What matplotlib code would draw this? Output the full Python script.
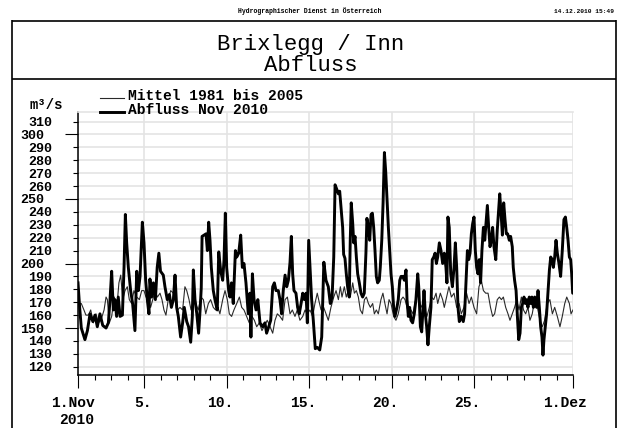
import matplotlib
matplotlib.use("Agg")
import numpy as np
import matplotlib.pyplot as plt
import matplotlib.transforms as mtransforms
from matplotlib.legend_handler import HandlerLine2D

# ---------------- data (days after 1 Nov 2010 00:00, discharge m3/s) ----------------
abfluss_nov2010 = [
    (0, 185), (0.1, 166), (0.2, 150), (0.42, 141), (0.57, 148), (0.73, 161), (0.9, 155), (1.03, 160),
    (1.17, 151), (1.33, 161), (1.5, 152), (1.7, 150), (1.84, 154), (1.94, 172), (2.04, 194), (2.14, 164),
    (2.24, 172), (2.34, 159), (2.44, 174), (2.55, 159), (2.69, 160), (2.79, 197), (2.87, 238), (2.95, 216),
    (3.05, 197), (3.19, 179), (3.31, 169), (3.45, 148), (3.56, 194), (3.66, 179), (3.76, 190), (3.9, 232),
    (4.0, 216), (4.1, 187), (4.2, 172), (4.3, 161), (4.36, 188), (4.46, 174), (4.57, 185), (4.69, 172),
    (4.8, 197), (4.9, 208), (5.0, 194), (5.17, 191), (5.27, 182), (5.41, 172), (5.54, 176), (5.66, 166),
    (5.78, 172), (5.88, 191), (5.98, 166), (6.08, 159), (6.22, 143), (6.34, 154), (6.44, 166), (6.59, 155),
    (6.7, 151), (6.83, 139), (6.93, 159), (6.99, 195), (7.09, 172), (7.2, 161), (7.31, 146), (7.4, 164),
    (7.47, 181), (7.52, 221), (7.64, 222), (7.76, 223), (7.84, 210), (7.92, 232), (8.0, 218), (8.08, 197),
    (8.2, 179), (8.3, 172), (8.44, 164), (8.53, 209), (8.65, 194), (8.77, 187), (8.85, 203), (8.93, 239),
    (9.01, 197), (9.13, 179), (9.21, 174), (9.3, 185), (9.41, 169), (9.54, 210), (9.62, 205), (9.74, 208),
    (9.86, 222), (9.96, 197), (10.06, 200), (10.18, 185), (10.32, 161), (10.42, 177), (10.48, 143), (10.57, 192),
    (10.67, 172), (10.79, 164), (10.9, 172), (11.03, 154), (11.19, 151), (11.33, 154), (11.43, 146), (11.56, 151),
    (11.68, 156), (11.8, 182), (11.9, 185), (12.0, 179), (12.14, 179), (12.24, 172), (12.34, 161), (12.44, 179),
    (12.55, 191), (12.65, 182), (12.75, 187), (12.85, 201), (12.93, 221), (13.01, 192), (13.09, 179), (13.21, 177),
    (13.31, 166), (13.41, 161), (13.52, 169), (13.62, 177), (13.72, 172), (13.82, 177), (13.9, 154), (13.98, 218),
    (14.06, 197), (14.16, 172), (14.26, 156), (14.38, 134), (14.5, 135), (14.65, 133), (14.77, 143), (14.9, 201),
    (15.03, 187), (15.17, 182), (15.29, 169), (15.4, 174), (15.5, 205), (15.58, 261), (15.7, 257), (15.78, 254),
    (15.86, 256), (15.94, 244), (16.04, 228), (16.1, 207), (16.18, 204), (16.26, 192), (16.34, 182), (16.44, 174),
    (16.5, 218), (16.56, 247), (16.65, 231), (16.71, 216), (16.79, 221), (16.87, 205), (16.95, 192), (17.05, 185),
    (17.15, 177), (17.25, 174), (17.35, 177), (17.45, 208), (17.51, 235), (17.6, 228), (17.68, 218), (17.76, 238),
    (17.84, 239), (17.92, 228), (18.0, 210), (18.08, 190), (18.16, 185), (18.26, 187), (18.32, 197), (18.41, 218),
    (18.49, 247), (18.57, 286), (18.65, 271), (18.73, 249), (18.81, 228), (18.89, 210), (18.97, 192), (19.05, 182),
    (19.13, 166), (19.21, 159), (19.33, 166), (19.41, 172), (19.5, 187), (19.58, 190), (19.68, 190), (19.78, 187),
    (19.88, 195), (19.94, 172), (20.02, 159), (20.1, 166), (20.18, 156), (20.28, 154), (20.38, 161), (20.48, 172),
    (20.59, 192), (20.65, 182), (20.75, 151), (20.83, 147), (20.91, 166), (20.97, 179), (21.05, 161), (21.13, 151),
    (21.21, 137), (21.29, 151), (21.39, 166), (21.47, 203), (21.56, 205), (21.64, 208), (21.72, 200), (21.8, 205),
    (21.9, 216), (22.0, 210), (22.1, 200), (22.2, 208), (22.3, 197), (22.36, 185), (22.42, 236), (22.5, 228),
    (22.59, 192), (22.69, 182), (22.79, 197), (22.87, 216), (22.95, 197), (23.03, 166), (23.11, 155), (23.23, 159),
    (23.35, 155), (23.43, 161), (23.51, 185), (23.6, 210), (23.68, 203), (23.76, 208), (23.84, 223), (23.92, 231),
    (24.0, 236), (24.08, 210), (24.16, 197), (24.24, 192), (24.32, 203), (24.4, 185), (24.48, 210), (24.57, 228),
    (24.65, 218), (24.73, 231), (24.81, 245), (24.89, 228), (24.97, 213), (25.05, 218), (25.13, 228), (25.21, 213),
    (25.32, 203), (25.41, 226), (25.48, 239), (25.56, 254), (25.64, 239), (25.72, 222), (25.8, 247), (25.88, 234),
    (25.96, 223), (26.04, 223), (26.14, 218), (26.22, 221), (26.32, 213), (26.38, 197), (26.46, 187), (26.55, 179),
    (26.63, 159), (26.71, 141), (26.79, 146), (26.87, 166), (26.95, 169), (27.03, 174), (27.11, 169), (27.19, 172),
    (27.27, 166), (27.35, 174), (27.43, 169), (27.51, 174), (27.6, 166), (27.68, 174), (27.8, 166), (27.88, 179),
    (27.96, 166), (28.04, 151), (28.12, 143), (28.18, 129), (28.24, 141), (28.32, 151), (28.4, 161), (28.48, 177),
    (28.57, 195), (28.65, 205), (28.73, 203), (28.81, 197), (28.89, 205), (28.97, 218), (29.05, 208), (29.15, 200),
    (29.25, 190), (29.35, 210), (29.45, 234), (29.54, 236), (29.62, 228), (29.7, 218), (29.78, 205), (29.86, 203),
    (29.92, 192), (29.98, 177), (30.0, 177),
]

mittel_1981_2005 = [
    (0, 169), (0.2, 169), (0.36, 164), (0.48, 160), (0.63, 160), (0.77, 164), (0.93, 154), (1.09, 161),
    (1.23, 154), (1.39, 156), (1.58, 164), (1.7, 174), (1.78, 172), (1.9, 154), (2.04, 159), (2.2, 174),
    (2.34, 164), (2.48, 185), (2.59, 191), (2.71, 172), (2.85, 179), (2.99, 182), (3.11, 172), (3.25, 169),
    (3.39, 179), (3.56, 174), (3.72, 172), (3.86, 179), (4.0, 179), (4.12, 174), (4.26, 172), (4.4, 166),
    (4.53, 172), (4.67, 179), (4.81, 174), (4.97, 177), (5.09, 172), (5.21, 164), (5.33, 160), (5.47, 172),
    (5.62, 179), (5.78, 177), (5.92, 169), (6.04, 164), (6.18, 166), (6.34, 164), (6.48, 182), (6.59, 179),
    (6.73, 172), (6.85, 164), (6.99, 172), (7.13, 169), (7.29, 164), (7.45, 174), (7.6, 172), (7.74, 161),
    (7.9, 169), (8.04, 172), (8.2, 166), (8.34, 164), (8.48, 166), (8.6, 161), (8.77, 172), (8.91, 179),
    (9.05, 172), (9.17, 161), (9.31, 159), (9.45, 164), (9.62, 169), (9.78, 174), (9.92, 166), (10.06, 164),
    (10.22, 159), (10.38, 154), (10.55, 159), (10.69, 156), (10.83, 151), (10.99, 154), (11.15, 148), (11.31, 152),
    (11.47, 156), (11.64, 151), (11.8, 146), (11.94, 156), (12.08, 161), (12.24, 159), (12.4, 156), (12.55, 172),
    (12.69, 174), (12.85, 161), (12.99, 164), (13.15, 159), (13.29, 164), (13.45, 156), (13.62, 159), (13.76, 164),
    (13.9, 161), (14.06, 164), (14.22, 159), (14.36, 169), (14.5, 177), (14.62, 170), (14.73, 164), (14.89, 166),
    (15.03, 161), (15.17, 156), (15.33, 166), (15.5, 174), (15.64, 179), (15.78, 172), (15.9, 182), (16.0, 174),
    (16.14, 182), (16.26, 174), (16.38, 179), (16.5, 174), (16.65, 185), (16.75, 177), (16.87, 179), (16.99, 174),
    (17.11, 164), (17.24, 161), (17.36, 172), (17.48, 174), (17.6, 169), (17.72, 166), (17.86, 169), (17.96, 161),
    (18.08, 164), (18.2, 161), (18.36, 172), (18.48, 177), (18.6, 169), (18.73, 161), (18.85, 172), (18.97, 169),
    (19.13, 159), (19.27, 156), (19.41, 161), (19.58, 172), (19.7, 174), (19.82, 172), (19.94, 166), (20.06, 161),
    (20.18, 164), (20.3, 161), (20.42, 169), (20.55, 177), (20.67, 172), (20.79, 166), (20.91, 169), (21.03, 164),
    (21.15, 159), (21.29, 166), (21.43, 174), (21.56, 172), (21.7, 177), (21.8, 169), (21.96, 177), (22.1, 172),
    (22.2, 166), (22.34, 174), (22.48, 182), (22.63, 174), (22.79, 177), (22.95, 166), (23.1, 169), (23.23, 161),
    (23.39, 166), (23.55, 177), (23.7, 169), (23.84, 174), (24.0, 166), (24.16, 161), (24.3, 182), (24.44, 187),
    (24.57, 179), (24.71, 177), (24.85, 177), (25.0, 166), (25.13, 159), (25.25, 161), (25.41, 172), (25.54, 174),
    (25.66, 172), (25.78, 174), (25.92, 166), (26.06, 161), (26.18, 156), (26.32, 161), (26.46, 166), (26.59, 172),
    (26.73, 164), (26.87, 174), (27.0, 164), (27.13, 161), (27.27, 166), (27.39, 156), (27.53, 161), (27.68, 172),
    (27.84, 166), (28.0, 156), (28.14, 151), (28.28, 156), (28.44, 169), (28.6, 172), (28.75, 161), (28.89, 166),
    (29.05, 159), (29.21, 151), (29.35, 159), (29.5, 169), (29.62, 174), (29.78, 169), (29.88, 161), (30.0, 164),
]

series_labels = ["Mittel 1981 bis 2005", "Abfluss Nov 2010"]
x_major_days = [0, 4, 9, 14, 19, 24, 30]
x_major_labels = ["1.Nov\n2010", "5.", "10.", "15.", "20.", "25.", "1.Dez"]
x_minor_days = list(range(0, 31))
y_major_ticks = [150, 200, 250, 300]
y_minor_ticks = [120, 130, 140, 160, 170, 180, 190, 210, 220, 230, 240, 260, 270, 280, 290, 310]
title_text = "Brixlegg / Inn\nAbfluss"
unit_text = "m³/s"
header_text = "Hydrographischer Dienst in Österreich"
date_text = "14.12.2010 15:49"

# ---------------- figure ----------------
W, H = 621, 428
DPI = 100
FONT = "Liberation Mono"
plt.rcParams["font.family"] = [FONT, "DejaVu Sans"]

fig = plt.figure(figsize=(W / DPI, H / DPI), dpi=DPI)
fig.patch.set_facecolor("white")

# overlay in pixel coordinates for page frame / header
ov = fig.add_axes([0, 0, 1, 1])
ov.set_xlim(0, W)
ov.set_ylim(H, 0)
ov.axis("off")
frame_kw = dict(color="black", lw=1.2, solid_capstyle="butt")
ov.plot([12, 12], [20, H], **frame_kw)
ov.plot([615.5, 615.5], [20, H], **frame_kw)
ov.plot([12, 615.5], [20.5, 20.5], **frame_kw)
ov.plot([12, 615.5], [79, 79], **frame_kw)
ov.text(310, 11, header_text, ha="center", va="center", fontsize=4.7, fontweight="bold")
ov.text(614, 11, date_text, ha="right", va="center", fontsize=4.5, fontweight="bold")
ov.text(311, 55, title_text, ha="center", va="center", fontsize=16, linespacing=1.05)
ov.text(46, 109, unit_text, ha="center", va="baseline", fontsize=10, fontweight="bold")

# main plot axes
ax_l, ax_r, ax_t, ax_b = 78, 573, 112, 375
ax = fig.add_axes([ax_l / W, (H - ax_b) / H, (ax_r - ax_l) / W, (ax_b - ax_t) / H])
ax.patch.set_alpha(0)

mt, mq = zip(*mittel_1981_2005)
at, aq = zip(*abfluss_nov2010)
l_mean, = ax.plot(mt, mq, color="#2a2a2a", lw=0.8, zorder=3)
l_abfl, = ax.plot(at, aq, color="black", lw=2.1, zorder=4, solid_joinstyle="round")

ax.set_xlim(0, 30)
ax.set_ylim(113.6, 317.4)

grid_color = "#e4e4e4"
ax.set_axisbelow(True)
ax.set_xticks(x_minor_days, minor=True)
ax.set_xticks(x_major_days, labels=x_major_labels)
ax.set_yticks(y_major_ticks, labels=[str(v) for v in y_major_ticks])
ax.set_yticks(y_minor_ticks, labels=[str(v) for v in y_minor_ticks], minor=True)
ax.grid(True, which="major", axis="x", color=grid_color, lw=1.2)
ax.grid(True, which="both", axis="y", color=grid_color, lw=1.2)

ax.spines["right"].set_visible(False)
ax.spines["top"].set_color(grid_color)
ax.spines["top"].set_linewidth(1.2)
ax.spines["left"].set_linewidth(1.1)
ax.spines["bottom"].set_linewidth(1.1)

ax.tick_params(axis="x", which="major", direction="out", length=9.4, width=0.8, pad=6,
               labelsize=10.5, colors="black")
ax.tick_params(axis="x", which="minor", direction="out", length=3.6, width=0.8)
ax.tick_params(axis="y", which="major", direction="out", length=9.4, width=0.8, pad=15,
               labelsize=9.6)
ax.tick_params(axis="y", which="minor", direction="out", length=3.6, width=0.8, pad=15,
               labelsize=9.6)
for lab in ax.get_xticklabels() + ax.get_yticklabels() + ax.get_yticklabels(minor=True):
    lab.set_fontweight("bold")

# small horizontal shifts of x tick labels as in the original
x_label_shift_px = [-5.5, -0.7, -6, -5.5, -6.5, -6.5, -8]
for tick, dx in zip(ax.xaxis.get_major_ticks(), x_label_shift_px):
    lab = tick.label1
    lab.set_transform(lab.get_transform() + mtransforms.ScaledTranslation(dx / DPI, 0, fig.dpi_scale_trans))
    lab.set_multialignment("right")


class LowHandler(HandlerLine2D):
    """Legend line sample drawn slightly below the text centre, as in the original."""
    def create_artists(self, legend, orig_handle, xdescent, ydescent, width, height, fontsize, trans):
        arts = super().create_artists(legend, orig_handle, xdescent, ydescent, width, height, fontsize, trans)
        for a in arts:
            a.set_ydata(np.asarray(a.get_ydata(), dtype=float) - 2.5)
        return arts


leg = fig.legend([l_mean, l_abfl], series_labels, loc="upper left",
                 bbox_to_anchor=(100 / W, (H - 89) / H), frameon=False,
                 prop={"family": FONT, "weight": "bold", "size": 10.5},
                 handlelength=1.65, handletextpad=0.27, labelspacing=0.0,
                 borderpad=0, borderaxespad=0,
                 handler_map={l_mean: LowHandler(), l_abfl: LowHandler()})

fig.savefig("out.png", dpi=DPI, facecolor="white")
